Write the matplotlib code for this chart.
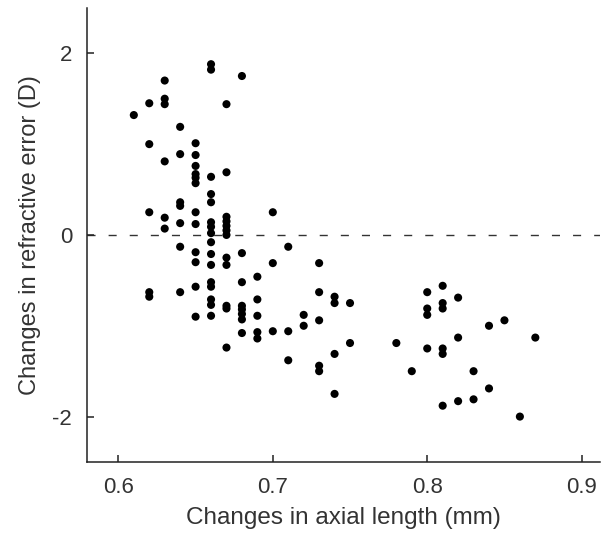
import matplotlib
matplotlib.use("Agg")
import matplotlib.pyplot as plt

plt.rcParams['font.family'] = ['Liberation Sans', 'DejaVu Sans']

# axial length change (mm) -> refractive error change (D), one list per column
al_values = [0.61, 0.62, 0.63, 0.64, 0.65, 0.66, 0.67, 0.68, 0.69, 0.70, 0.71,
             0.72, 0.73, 0.74, 0.75, 0.78, 0.79, 0.80, 0.81, 0.82, 0.83, 0.84,
             0.85, 0.86, 0.87]
re_values = [
    [1.32],
    [1.45, 1.00, 0.25, -0.63, -0.68],
    [1.70, 1.50, 1.44, 0.81, 0.19, 0.07],
    [1.19, 0.89, 0.36, 0.32, 0.13, -0.13, -0.63],
    [1.01, 0.88, 0.76, 0.67, 0.63, 0.57, 0.25, 0.12, -0.19, -0.30, -0.57, -0.90],
    [1.88, 1.82, 0.64, 0.45, 0.36, 0.14, 0.09, 0.02, -0.08, -0.21, -0.33,
     -0.52, -0.57, -0.71, -0.77, -0.89],
    [1.44, 0.69, 0.20, 0.15, 0.10, 0.05, 0.00, -0.25, -0.33, -0.78, -0.81, -1.24],
    [1.75, -0.20, -0.52, -0.78, -0.82, -0.87, -0.93, -1.08],
    [-0.46, -0.71, -0.89, -1.07, -1.14],
    [0.25, -0.31, -1.06],
    [-0.13, -1.06, -1.38],
    [-0.88, -1.00],
    [-0.31, -0.63, -0.94, -1.44, -1.50],
    [-0.68, -0.75, -1.31, -1.75],
    [-0.75, -1.19],
    [-1.19],
    [-1.50],
    [-0.63, -0.81, -0.88, -1.25],
    [-0.56, -0.75, -0.81, -1.25, -1.31, -1.88],
    [-0.69, -1.13, -1.83],
    [-1.50, -1.81],
    [-1.00, -1.69],
    [-0.94],
    [-2.00],
    [-1.13],
]

xs = []
ys = []
for a, col in zip(al_values, re_values):
    for r in col:
        xs.append(a)
        ys.append(r)

fig = plt.figure(figsize=(6.14, 5.33), dpi=100)
ax = fig.add_axes([0.1425, 0.1332, 0.835, 0.852])

ax.axhline(0, color='#333333', lw=1.0, linestyle=(0, (5.8, 9.4)), zorder=1)
ax.scatter(xs, ys, s=34, color='black', edgecolors='none', zorder=3)

ax.set_xlim(0.58, 0.912)
ax.set_ylim(-2.5, 2.5)
ax.set_xticks([0.6, 0.7, 0.8, 0.9])
ax.set_xticklabels(['0.6', '0.7', '0.8', '0.9'])
ax.set_yticks([-2, 0, 2])
ax.set_yticklabels(['-2', '0', '2'])

for s in ['top', 'right']:
    ax.spines[s].set_visible(False)
for s in ['left', 'bottom']:
    ax.spines[s].set_linewidth(1.1)
    ax.spines[s].set_color('#222222')

ax.tick_params(direction='in', length=5, width=1.1, color='#222222',
               labelsize=16, labelcolor='#333333', pad=11)

ax.set_xlabel('Changes in axial length (mm)', fontsize=17.5, color='#333333', labelpad=6)
ax.set_ylabel('Changes in refractive error (D)', fontsize=17, color='#333333', labelpad=8)

fig.savefig('out.png', dpi=100)
